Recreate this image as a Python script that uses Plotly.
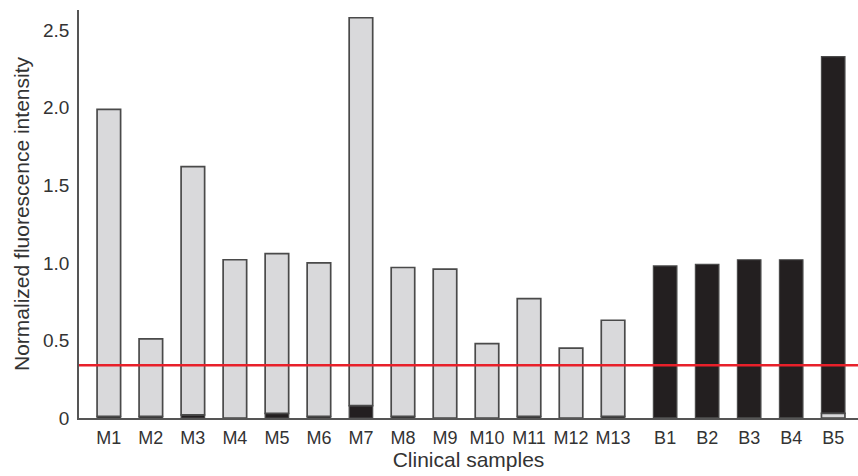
import plotly.graph_objects as go

samples = ["M1", "M2", "M3", "M4", "M5", "M6", "M7", "M8", "M9", "M10", "M11", "M12", "M13",
           "B1", "B2", "B3", "B4", "B5"]
gray_vals = [1.98, 0.50, 1.60, 1.02, 1.03, 0.99, 2.50, 0.96, 0.96, 0.48, 0.76, 0.45, 0.62,
             0.0, 0.0, 0.0, 0.0, 0.03]
black_vals = [0.01, 0.01, 0.02, 0.0, 0.03, 0.01, 0.08, 0.01, 0.0, 0.0, 0.01, 0.0, 0.01,
              0.98, 0.99, 1.02, 1.02, 2.30]
threshold = 0.34
y_ticks = [0, 0.5, 1.0, 1.5, 2.0, 2.5]
y_tick_labels = ["0", "0.5", "1.0", "1.5", "2.0", "2.5"]

# x positions: malignant group then benign group with a small extra gap
x_pos = []
for i, s in enumerate(samples):
    x_pos.append(i + (0.24 if s.startswith("B") else 0.0))

# smaller component is stacked at the bottom
gray_base = [b if g >= b else 0 for g, b in zip(gray_vals, black_vals)]
black_base = [g if b > g else 0 for g, b in zip(gray_vals, black_vals)]

outline = "#4a4a4a"
fig = go.Figure()
fig.add_trace(go.Bar(x=x_pos, y=black_vals, base=black_base, width=0.56,
                     marker=dict(color="#231f20", line=dict(color=outline, width=1.2)),
                     showlegend=False))
fig.add_trace(go.Bar(x=x_pos, y=gray_vals, base=gray_base, width=0.56,
                     marker=dict(color="#d9d9db", line=dict(color=outline, width=1.7)),
                     showlegend=False))

fig.add_shape(type="line", xref="paper", yref="y", x0=0, x1=1, y0=threshold, y1=threshold,
              line=dict(color="#e8202a", width=2.5), layer="above")

fig.update_layout(
    width=858, height=476,
    margin=dict(l=79, r=0, t=10, b=58, autoexpand=False),
    plot_bgcolor="white", paper_bgcolor="white",
    barmode="overlay",
    font=dict(family="Liberation Sans, Arial, sans-serif", color="#333333"),
    xaxis=dict(range=[-0.71, 17.83], tickvals=x_pos, ticktext=samples, showgrid=False,
               zeroline=False, showline=True, linecolor="#555555", linewidth=1.5,
               ticks="", tickfont=dict(size=18), ticklabelstandoff=3, automargin=False,
               title=dict(text="Clinical samples", font=dict(size=21), standoff=4)),
    yaxis=dict(range=[0, 2.63], tickvals=y_ticks, ticktext=y_tick_labels, showgrid=False,
               zeroline=False, showline=True, linecolor="#555555", linewidth=1.5,
               ticks="", tickfont=dict(size=19), ticklabelstandoff=4, automargin=False,
               title=dict(text="Normalized fluorescence intensity", font=dict(size=21), standoff=8)),
)
fig.write_html("out.html", config={"displayModeBar": False},
               post_script="document.body.style.margin='0';")
